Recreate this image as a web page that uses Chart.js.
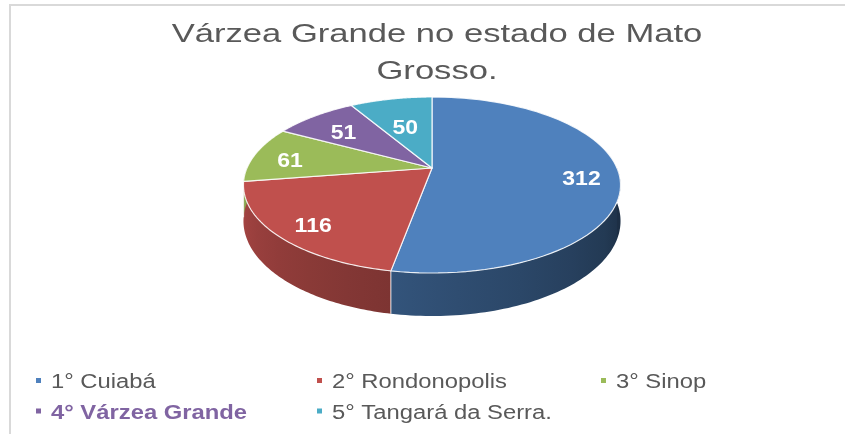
<!DOCTYPE html>
<html>
<head>
<meta charset="utf-8">
<script src="https://cdn.jsdelivr.net/npm/chart.js@4/dist/chart.umd.min.js"></script>
<style>
  body { margin: 0; background: #fff; }
</style>
</head>
<body>
<canvas id="pieChart" width="845" height="434"></canvas>
<script>
// data
var titleLines = ["Várzea Grande no estado de Mato", "Grosso."];
var categories = ["1° Cuiabá", "2° Rondonopolis", "3° Sinop", "4° Várzea Grande", "5° Tangará da Serra."];
var values = [312, 116, 61, 51, 50];
var colors = ["#4F81BD", "#C0504D", "#9BBB59", "#8064A2", "#4BACC6"];
var highlighted = 3; // bold purple legend entry

// perspective look of the 3d pie
var TILT = 0.458;   // vertical squash of the top face
var PERSP = 0.193;  // near side bigger than far side
var DEPTH = 0.1876; // wall height, as part of radius

function shade(hex, f) {
  var n = parseInt(hex.slice(1), 16);
  var r = Math.round(((n >> 16) & 255) * f);
  var g = Math.round(((n >> 8) & 255) * f);
  var b = Math.round((n & 255) * f);
  return "rgb(" + r + "," + g + "," + b + ")";
}

function proj(arc, a, frac, down) {
  var R = arc.outerRadius;
  var V = R * TILT;
  var cy = arc.y - V * PERSP / (1 - PERSP * PERSP);
  var s = Math.sin(a), c = Math.cos(a);
  var p = 1 / (1 - PERSP * frac * s);
  return {
    x: arc.x + R * frac * c * p,
    y: cy + V * frac * s * p + (down ? R * DEPTH * p : 0)
  };
}

function wallLight(a) {
  var f = 0.38 + 0.48 * (a - 0.2) / 2.77;
  return Math.max(0.36, Math.min(0.88, f));
}

var pie3d = {
  id: 'pie3d',
  beforeDraw: function(chart) {
    var ctx = chart.ctx;
    ctx.save();
    ctx.fillStyle = "#fff";
    ctx.fillRect(0, 0, chart.width, chart.height);
    ctx.fillStyle = "#D9D9D9";
    ctx.fillRect(9, 4, chart.width - 9, 2);
    ctx.fillRect(9, 4, 2, chart.height - 4);
    ctx.restore();
  },
  beforeDatasetsDraw: function(chart) {
    var ctx = chart.ctx;
    var arcs = chart.getDatasetMeta(0).data;
    var steps = 80;
    ctx.save();

    // walls on the near side
    arcs.forEach(function(arc, i) {
      var a0 = Math.max(arc.startAngle, 0);
      var a1 = Math.min(arc.endAngle, Math.PI);
      if (a1 <= a0) return;
      ctx.beginPath();
      for (var k = 0; k <= steps; k++) {
        var pt = proj(arc, a0 + (a1 - a0) * k / steps, 1, false);
        if (k === 0) ctx.moveTo(pt.x, pt.y); else ctx.lineTo(pt.x, pt.y);
      }
      for (var k = steps; k >= 0; k--) {
        var pb = proj(arc, a0 + (a1 - a0) * k / steps, 1, true);
        ctx.lineTo(pb.x, pb.y);
      }
      ctx.closePath();
      var xl = proj(arc, a1, 1, false).x, xr = proj(arc, a0, 1, false).x;
      var grad = ctx.createLinearGradient(xl, 0, xr, 0);
      for (var j = 0; j <= 6; j++) {
        var a = a1 - (a1 - a0) * j / 6;
        var x = proj(arc, a, 1, false).x;
        var t = (x - xl) / (xr - xl);
        grad.addColorStop(Math.max(0, Math.min(1, t)), shade(colors[i], wallLight(a)));
      }
      ctx.fillStyle = grad;
      ctx.fill();
    });

    // white edges where slices meet on the wall
    ctx.strokeStyle = "rgba(255,255,255,0.85)";
    ctx.lineWidth = 1;
    arcs.forEach(function(arc) {
      var a = arc.endAngle;
      if (a > 0 && a < Math.PI) {
        var t = proj(arc, a, 1, false), b = proj(arc, a, 1, true);
        ctx.beginPath();
        ctx.moveTo(t.x, t.y);
        ctx.lineTo(b.x, b.y);
        ctx.stroke();
      }
    });

    // top faces
    arcs.forEach(function(arc, i) {
      var c = proj(arc, 0, 0, false);
      ctx.beginPath();
      ctx.moveTo(c.x, c.y);
      for (var k = 0; k <= steps; k++) {
        var pt = proj(arc, arc.startAngle + (arc.endAngle - arc.startAngle) * k / steps, 1, false);
        ctx.lineTo(pt.x, pt.y);
      }
      ctx.closePath();
      ctx.fillStyle = colors[i];
      ctx.fill();
      ctx.strokeStyle = "rgba(255,255,255,0.85)";
      ctx.lineWidth = 1.2;
      ctx.lineJoin = "round";
      ctx.stroke();
    });

    // value labels, pulled inward on the narrow far slices
    ctx.fillStyle = "#fff";
    ctx.font = "bold 20px 'Liberation Sans', Arial, sans-serif";
    ctx.textAlign = "center";
    ctx.textBaseline = "middle";
    arcs.forEach(function(arc, i) {
      var mid = (arc.startAngle + arc.endAngle) / 2;
      var far = Math.max(0, -Math.sin(mid));
      var pt = proj(arc, mid, 0.8 - 0.21 * far * far * far, false);
      ctx.save();
      ctx.translate(pt.x, pt.y + 5);
      ctx.scale(1.15, 1);
      ctx.fillText(String(values[i]), 0, 0);
      ctx.restore();
    });

    ctx.restore();
    return false;
  },
  afterDraw: function(chart) {
    var ctx = chart.ctx;
    ctx.save();
    // title
    ctx.fillStyle = "#595959";
    ctx.font = "26px 'Liberation Sans', Arial, sans-serif";
    ctx.textAlign = "center";
    ctx.textBaseline = "alphabetic";
    titleLines.forEach(function(line, i) {
      ctx.save();
      ctx.translate(437, 42 + i * 37);
      ctx.scale(1.33, 1);
      ctx.fillText(line, 0, 0);
      ctx.restore();
    });

    // legend, 3 columns
    var colX = [36, 317, 601];
    ctx.textAlign = "left";
    categories.forEach(function(name, i) {
      var col = i % 3, row = Math.floor(i / 3);
      var mx = colX[col], my = 378 + row * 30.5;
      ctx.fillStyle = colors[i];
      ctx.fillRect(mx, my, 5, 5);
      ctx.save();
      ctx.translate(mx + 15, 388 + row * 30.5);
      ctx.scale(1.19, 1);
      if (i === highlighted) {
        ctx.font = "bold 20px 'Liberation Sans', Arial, sans-serif";
        ctx.fillStyle = colors[i];
      } else {
        ctx.font = "20px 'Liberation Sans', Arial, sans-serif";
        ctx.fillStyle = "#595959";
      }
      ctx.fillText(name, 0, 0);
      ctx.restore();
    });
    ctx.restore();
  }
};

var pieCanvas = document.getElementById("pieChart");
var myPieChart = new Chart(pieCanvas, {
  type: 'pie',
  data: {
    labels: categories,
    datasets: [{
      data: values,
      backgroundColor: colors,
      borderWidth: 0
    }]
  },
  options: {
    responsive: false,
    animation: false,
    radius: 185,
    layout: { padding: { left: 19, right: 0, top: 0, bottom: 64 } },
    plugins: {
      legend: { display: false },
      title: { display: false },
      tooltip: { enabled: false }
    }
  },
  plugins: [pie3d]
});
</script>
</body>
</html>
